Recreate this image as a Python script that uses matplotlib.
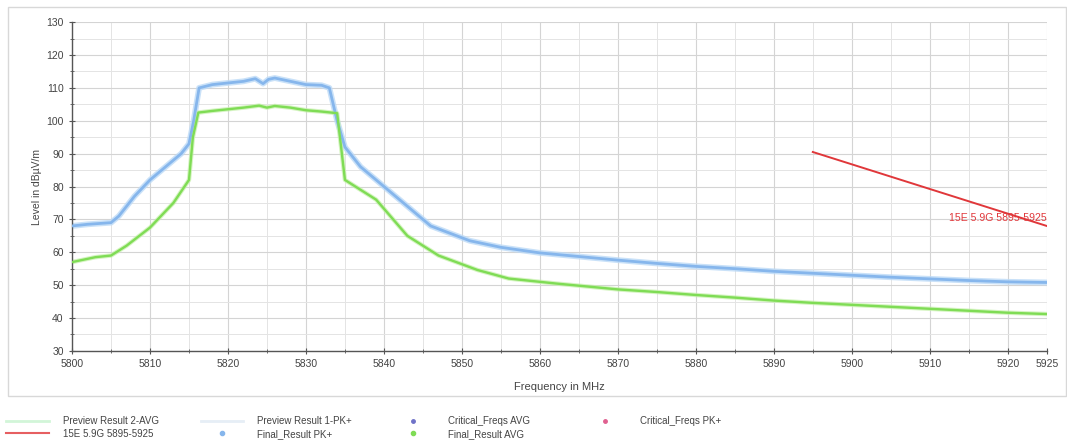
import matplotlib.pyplot as plt
from matplotlib.lines import Line2D
from matplotlib.patches import Rectangle

plt.rcParams["font.family"] = ["Liberation Sans", "DejaVu Sans"]

# Preview Result 1-PK+ trace
pk_freq = [5800, 5802, 5805, 5806, 5808, 5810, 5812, 5814, 5815, 5815.6, 5816.3,
           5818, 5820, 5822, 5823.5, 5824.5, 5825.2, 5826, 5828, 5830, 5832,
           5833, 5834, 5835, 5837, 5839, 5842, 5846, 5851, 5855, 5860, 5865,
           5870, 5875, 5880, 5885, 5890, 5895, 5900, 5905, 5910, 5915, 5920, 5925]
pk_level = [68, 68.5, 69, 71, 77, 82, 86, 90, 93, 100, 110,
            111, 111.5, 112, 112.8, 111.3, 112.6, 113, 112, 111, 110.8,
            110, 100, 92, 86, 82, 76, 68, 63.5, 61.5, 59.8, 58.7,
            57.6, 56.6, 55.7, 55, 54.2, 53.6, 53, 52.4, 51.9, 51.4, 51, 50.8]

# Preview Result 2-AVG trace
avg_freq = [5800, 5803, 5805, 5807, 5810, 5813, 5815, 5815.5, 5816.2, 5818, 5820,
            5822, 5824, 5825, 5826, 5828, 5830, 5832, 5834, 5835, 5837, 5839,
            5843, 5847, 5852, 5856, 5862, 5870, 5875, 5880, 5885, 5890, 5895,
            5900, 5905, 5910, 5915, 5920, 5925]
avg_level = [57, 58.5, 59, 62, 67.5, 75, 82, 95, 102.5, 103, 103.5,
             104, 104.6, 104, 104.5, 104, 103.2, 102.8, 102.3, 82, 79, 76,
             65, 59, 54.6, 52, 50.5, 48.7, 47.9, 47, 46.2, 45.3, 44.6,
             44, 43.4, 42.8, 42.2, 41.6, 41.2]

# 15E 5.9G 5895-5925 limit line
limit_freq = [5895, 5925]
limit_level = [90.5, 68]
limit_name = "15E 5.9G 5895-5925"

x_ticks = [5800, 5810, 5820, 5830, 5840, 5850, 5860, 5870, 5880, 5890,
           5900, 5910, 5920, 5925]
y_ticks = [30, 40, 50, 60, 70, 80, 90, 100, 110, 120, 130]

blue = "#86b6ec"
green = "#7fdc55"
red = "#e0373a"
text_color = "#444444"

fig = plt.figure(figsize=(10.67, 4.43), dpi=100)
fig.patches.append(Rectangle((0.0075, 0.106), 0.992, 0.878, transform=fig.transFigure,
                             fill=False, edgecolor="#d8d8d8", linewidth=1))

ax = fig.add_axes([0.0675, 0.208, 0.9135, 0.742])

# noisy peak trace is drawn as a soft band
ax.plot(pk_freq, pk_level, color="#bcdaf7", linewidth=4.2, alpha=0.8, zorder=2)
ax.plot(pk_freq, pk_level, color=blue, linewidth=2, zorder=3)
ax.plot(avg_freq, avg_level, color="#c4f0a8", linewidth=3.2, alpha=0.7, zorder=2)
ax.plot(avg_freq, avg_level, color=green, linewidth=1.7, zorder=3)
ax.plot(limit_freq, limit_level, color=red, linewidth=1.4, zorder=4)
ax.text(limit_freq[1], limit_level[1] + 1.0, limit_name, color=red, fontsize=7.6,
        ha="right", va="bottom", zorder=5)

ax.set_xlim(5800, 5925)
ax.set_ylim(30, 130)
ax.set_xticks(x_ticks)
ax.set_yticks(y_ticks)
ax.set_xticks([x + 5 for x in x_ticks[:-2]] + [5915], minor=True)
ax.set_yticks([y + 5 for y in y_ticks[:-1]], minor=True)
ax.grid(True, which="major", color="#d4d4d4", linewidth=0.8)
ax.grid(True, which="minor", color="#e4e4e4", linewidth=0.7)
ax.set_axisbelow(True)

for side in ("top", "right"):
    ax.spines[side].set_visible(False)
for side in ("left", "bottom"):
    ax.spines[side].set_color("#555555")
    ax.spines[side].set_linewidth(1)
ax.tick_params(which="both", direction="inout", colors="#555555", labelsize=7.5,
               labelcolor=text_color)
ax.tick_params(which="major", length=5)
ax.tick_params(which="minor", length=3)

ax.set_xlabel("Frequency in MHz", fontsize=8, color=text_color, labelpad=9)
ax.set_ylabel("Level in dB\u00b5V/m", fontsize=7.5, color=text_color, labelpad=3)

# legend laid out as four fixed columns
columns = [
    (0.006, [Line2D([], [], color="#d2f5d8", linewidth=2),
             Line2D([], [], color=red, linewidth=1.5, alpha=0.8)],
     ["Preview Result 2-AVG", limit_name]),
    (0.188, [Line2D([], [], color="#e6eef6", linewidth=2),
             Line2D([], [], color=blue, marker="o", markersize=3, linestyle="none")],
     ["Preview Result 1-PK+", "Final_Result PK+"]),
    (0.367, [Line2D([], [], color="#6f72c8", marker="o", markersize=2.5, linestyle="none"),
             Line2D([], [], color=green, marker="o", markersize=3, linestyle="none")],
     ["Critical_Freqs AVG", "Final_Result AVG"]),
    (0.547, [Line2D([], [], color="#e06090", marker="o", markersize=2.5, linestyle="none")],
     ["Critical_Freqs PK+"]),
]
for x0, handles, labels in columns:
    fig.legend(handles, labels, loc="upper left", bbox_to_anchor=(x0, 0.06),
               frameon=False, fontsize=7, handlelength=4.4, labelspacing=0.25,
               handletextpad=1.4, borderpad=0, borderaxespad=0,
               labelcolor=text_color)

fig.savefig("out.png", dpi=100)
